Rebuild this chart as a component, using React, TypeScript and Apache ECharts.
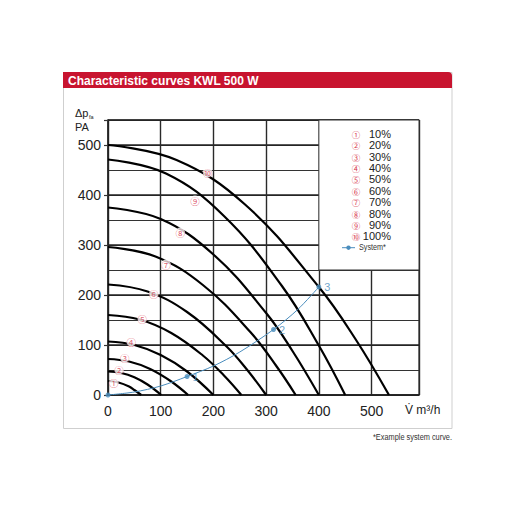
import React, { useEffect, useRef } from 'react';
import * as echarts from 'echarts';

// Fan characteristic curves (x: airflow m³/h, y: pressure Pa)
const c1 = [[0, 28], [20, 25], [40, 17], [50, 10], [63, 0]];
const c2 = [[0, 47], [25, 44], [50, 35.5], [75, 21], [101, 0]];
const c3 = [[0, 72], [40, 67], [80, 52], [120, 27], [152, 0]];
const c4 = [[0, 107], [50, 100], [100, 80], [150, 47], [200, 0]];
const c5 = [[0, 160], [60, 151], [120, 124], [180, 79], [220, 39], [253, 0]];
const c6 = [[0, 221], [75, 207], [150, 166], [225, 97], [265, 49], [300, 0]];
const c7 = [[0, 296], [90, 277], [180, 220], [270, 126], [320, 57], [356, 0]];
const c8 = [[0, 375], [100, 352], [200, 281], [300, 164], [350, 88], [400, 0]];
const c9 = [[0, 471], [110, 443], [220, 358], [330, 218], [400, 99], [450, 0]];
const c10 = [[0, 500], [130, 470], [260, 381], [400, 216], [470, 111], [533, 0]];
const curves = [c1, c2, c3, c4, c5, c6, c7, c8, c9, c10];

// Circled curve labels and their positions
const curveLabels = ['①', '②', '③', '④', '⑤', '⑥', '⑦', '⑧', '⑨', '⑩'];
const curveLabelPos = [[11, 25], [21, 51], [32, 75], [44, 107], [65, 153], [87, 203], [110, 261], [137, 325], [165, 389], [189, 445]];
const pctLabels = ['10%', '20%', '30%', '40%', '50%', '60%', '70%', '80%', '90%', '100%'];

// Example system curve
const systemLine = [[0, 0], [50, 6], [100, 18], [150, 37], [200, 58], [250, 86], [314, 131], [360, 171], [400, 216]];
const systemPoints = [[0, 0], [150, 37], [314, 131], [400, 216]];
const systemPointLabels = ['', '1', '2', '3'];

// Axes
const xMax = 590;
const yMax = 550;
const legendBox = [[400, 250], [590, 550]];

const RED = '#c8142f';
const CIRC = '#d7374e';
const BLUE = '#4a8dbd';
const FONT = '"Liberation Sans", Arial, Helvetica, sans-serif';
const CFONT = '"Noto Sans CJK JP", "DejaVu Sans", sans-serif';

export default function App() {
  const ref = useRef<HTMLDivElement>(null);
  useEffect(() => {
    const chart = echarts.init(ref.current!, null, { renderer: 'svg' });
    const gridLine = { show: true, lineStyle: { color: '#333', width: 1.1 } };
    const legendTexts: any[] = [];
    curveLabels.forEach((c, i) => {
      const y = 133.7 + i * 11.4;
      legendTexts.push({ type: 'text', x: 356, y, style: { text: c, fill: CIRC, fontSize: 8.5, lineHeight: 9, fontFamily: CFONT, align: 'center', verticalAlign: 'middle' } });
      legendTexts.push({ type: 'text', x: 391, y, style: { text: pctLabels[i], fill: '#222', fontSize: 11, lineHeight: 11, fontFamily: FONT, align: 'right', verticalAlign: 'middle' } });
    });
    const option: any = {
      animation: false,
      backgroundColor: '#fff',
      grid: { left: 108, right: 93, top: 120, bottom: 117, show: true, borderColor: '#333', borderWidth: 1.2 },
      xAxis: {
        type: 'value', min: 0, max: xMax, interval: 100,
        axisLine: { show: true, lineStyle: { color: '#222', width: 1.5 } },
        axisTick: { show: false },
        axisLabel: { color: '#222', fontSize: 14, fontFamily: FONT, margin: 9, formatter: (v: number) => (v % 100 === 0 ? String(v) : '') },
        splitLine: { show: true, lineStyle: { color: '#2a2a2a', width: 1.4 } },
      },
      yAxis: [
        {
          type: 'value', min: 0, max: yMax, interval: 50,
          axisLine: { show: false }, axisTick: { show: false }, axisLabel: { show: false },
          splitLine: gridLine,
        },
        {
          type: 'value', min: 0, max: yMax, interval: 100, position: 'left',
          axisLine: { show: true, lineStyle: { color: '#222', width: 1.5 } },
          axisTick: { show: true, length: 4, lineStyle: { color: '#333', width: 1.2 } },
          axisLabel: { color: '#222', fontSize: 14, fontFamily: FONT, margin: 7, formatter: (v: number) => (v % 100 === 0 ? String(v) : '') },
          splitLine: { show: true, lineStyle: { color: '#222', width: 1.6 } },
        },
      ],
      series: [
        {
          type: 'line', data: [], silent: true,
          markArea: {
            silent: true,
            itemStyle: { color: '#fff', borderColor: '#333', borderWidth: 1 },
            data: [[{ coord: legendBox[0] }, { coord: legendBox[1] }]],
          },
        },
        ...curves.map((d) => ({
          type: 'line', data: d, smooth: 0.4, showSymbol: false, silent: true,
          lineStyle: { color: '#000', width: 2.2 }, z: 3,
        })),
        {
          type: 'line', data: systemLine, smooth: 0.3, showSymbol: false, silent: true,
          lineStyle: { color: BLUE, width: 1 }, z: 4,
        },
        {
          type: 'scatter', data: systemPoints, symbol: 'circle', symbolSize: 5, silent: true,
          itemStyle: { color: BLUE }, z: 5,
          label: { show: true, position: 'right', distance: 3, color: BLUE, fontSize: 11, fontFamily: FONT, formatter: (p: any) => systemPointLabels[p.dataIndex] },
        },
        {
          type: 'scatter', data: curveLabelPos, symbol: 'circle', symbolSize: 1, silent: true,
          itemStyle: { color: 'rgba(0,0,0,0)' }, z: 6,
          label: {
            show: true, position: 'inside', color: CIRC, fontSize: 9.5, lineHeight: 10, fontFamily: CFONT,
            backgroundColor: '#fff', borderRadius: 5, padding: [0, 0],
            formatter: (p: any) => curveLabels[p.dataIndex],
          },
        },
      ],
      graphic: [
        { type: 'rect', shape: { x: 63.5, y: 72.5, width: 388.5, height: 356 }, style: { fill: 'none', stroke: '#cfcfcf', lineWidth: 1 }, z: -10 },
        { type: 'rect', shape: { x: 63, y: 72, width: 389, height: 16, r: [0, 4, 0, 0] }, style: { fill: RED } },
        { type: 'text', x: 68, y: 80.5, style: { text: 'Characteristic curves KWL 500 W', fill: '#fff', fontSize: 12, fontWeight: 'bold', fontFamily: FONT, align: 'left', verticalAlign: 'middle' } },
        { type: 'text', x: 75, y: 113, style: { text: 'Δp', fill: '#222', fontSize: 11, fontFamily: FONT, align: 'left', verticalAlign: 'middle' } },
        { type: 'text', x: 89, y: 117, style: { text: 'fa', fill: '#222', fontSize: 5.5, fontFamily: FONT, align: 'left', verticalAlign: 'middle' } },
        { type: 'text', x: 75, y: 126.5, style: { text: 'PA', fill: '#222', fontSize: 11, fontFamily: FONT, align: 'left', verticalAlign: 'middle' } },
        { type: 'text', x: 405, y: 410, style: { text: 'V̇ m³/h', fill: '#222', fontSize: 12, fontFamily: FONT, align: 'left', verticalAlign: 'middle' } },
        { type: 'text', x: 452, y: 437, originX: 0, originY: 0, scaleX: 0.82, style: { text: '*Example system curve.', fill: '#333', fontSize: 9, fontFamily: FONT, align: 'right', verticalAlign: 'middle' } },
        ...legendTexts.map((t) => ({ ...t, z: 100 })),
        { type: 'line', shape: { x1: 342, y1: 247.7, x2: 355, y2: 247.7 }, style: { stroke: BLUE, lineWidth: 1 }, z: 100 },
        { type: 'circle', shape: { cx: 348.5, cy: 247.7, r: 2.2 }, style: { fill: BLUE }, z: 100 },
        { type: 'text', x: 359, y: 247.7, originX: 0, originY: 0, scaleX: 0.85, style: { text: 'System*', fill: '#333', fontSize: 8.5, fontFamily: FONT, align: 'left', verticalAlign: 'middle' }, z: 100 },
      ],
    };
    chart.setOption(option);
    return () => chart.dispose();
  }, []);
  return <div ref={ref} style={{ position: 'absolute', left: 0, top: 0, width: 512, height: 512, background: '#fff' }} />;
}
